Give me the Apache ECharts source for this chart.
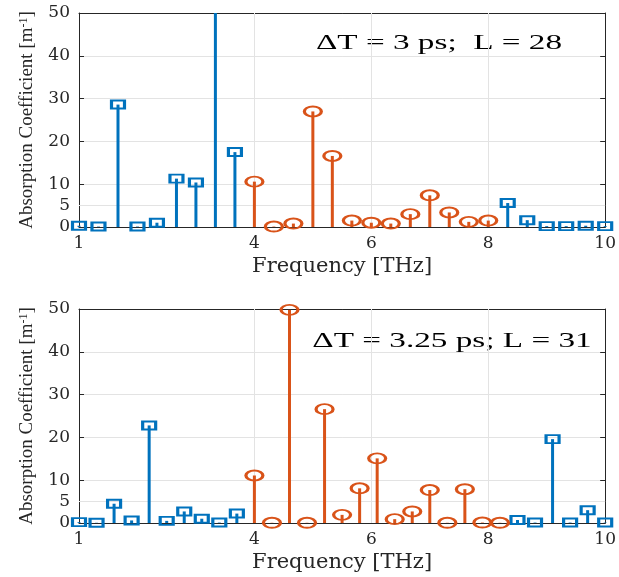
<!DOCTYPE html>
<html><head><meta charset="utf-8">
<script src="https://cdn.jsdelivr.net/npm/echarts@6/dist/echarts.min.js"></script>
<style>html,body{margin:0;padding:0;background:#fff}#c{width:619px;height:577px}</style>
</head><body><div id="c"></div><script>
// ---- tick labels ----
const xTickValues = [1, 4, 6, 8, 10];
const yTickValues = [0, 5, 10, 20, 30, 40, 50];

// ---- Panel 1: ΔT = 3 ps; L = 28 ----
const p1BlueAFreq = [1.000, 1.333, 1.667, 2.000, 2.333, 2.667, 3.000, 3.333, 3.667];
const p1BlueAVal  = [0.3, 0.1, 28.6, 0.1, 1.0, 11.3, 10.4, 58, 17.5];
const p1OrangeFreq = [4.000, 4.333, 4.667, 5.000, 5.333, 5.667, 6.000, 6.333, 6.667, 7.000, 7.333, 7.667, 8.000];
const p1OrangeVal  = [10.6, 0.1, 0.8, 27.0, 16.6, 1.5, 1.0, 0.8, 3.0, 7.4, 3.4, 1.2, 1.5];
const p1BlueBFreq = [8.333, 8.667, 9.000, 9.333, 9.667, 10.000];
const p1BlueBVal  = [5.6, 1.6, 0.2, 0.2, 0.3, 0.2];

// ---- Panel 2: ΔT = 3.25 ps; L = 31 ----
const p2BlueAFreq = [1.0, 1.3, 1.6, 1.9, 2.2, 2.5, 2.8, 3.1, 3.4, 3.7];
const p2BlueAVal  = [0.2, 0.05, 4.5, 0.6, 22.8, 0.5, 2.7, 1.0, 0.1, 2.2];
const p2OrangeFreq = [4.0, 4.3, 4.6, 4.9, 5.2, 5.5, 5.8, 6.1, 6.4, 6.7, 7.0, 7.3, 7.6, 7.9, 8.2];
const p2OrangeVal  = [11.1, 0.05, 49.8, 0.05, 26.6, 1.9, 8.1, 15.1, 0.9, 2.7, 7.7, 0.05, 7.9, 0.1, 0.05];
const p2BlueBFreq = [8.5, 8.8, 9.1, 9.4, 9.7, 10.0];
const p2BlueBVal  = [0.7, 0.1, 19.6, 0.1, 3.0, 0.1];

const panelTitles = ['\u0394T = 3 ps;  L = 28', '\u0394T = 3.25 ps; L = 31'];

const BLUE = '#0072BD', ORANGE = '#D95319', AX = '#262626', GRID = '#e3e3e3';
const FONT_H = '"DejaVu Serif", "Liberation Serif", serif';
const FONT_V = '"Liberation Serif", "DejaVu Serif", serif';
const ELLIPSE = 'path://M0,10A20,10 0 1,1 40,10A20,10 0 1,1 0,10Z';

const zip = (xs, ys) => xs.map((x, i) => [x, ys[i]]);
const panels = [
  { blue: zip(p1BlueAFreq, p1BlueAVal).concat(zip(p1BlueBFreq, p1BlueBVal)), orange: zip(p1OrangeFreq, p1OrangeVal), top: 13 },
  { blue: zip(p2BlueAFreq, p2BlueAVal).concat(zip(p2BlueBFreq, p2BlueBVal)), orange: zip(p2OrangeFreq, p2OrangeVal), top: 309 }
];

const grid = [], xAxis = [], yAxis = [], series = [];
panels.forEach((p, i) => {
  grid.push({ left: 79, top: p.top, width: 528, height: 214, containLabel: false });
  xAxis.push({
    type: 'value', gridIndex: i, min: 1, max: 10, interval: 1, position: 'bottom',
    name: 'Frequency [THz]', nameLocation: 'middle', nameGap: 29,
    nameTextStyle: { fontFamily: FONT_H, fontSize: 21, color: AX },
    axisLine: { show: true, onZero: false, lineStyle: { color: AX, width: 1 } },
    axisTick: { show: true, inside: true, length: 5, customValues: xTickValues, lineStyle: { color: AX } },
    axisLabel: { show: true, customValues: xTickValues, fontFamily: FONT_H, fontSize: 17, color: AX, margin: 8 },
    splitLine: { show: false }
  });
  yAxis.push({
    type: 'value', gridIndex: i, min: 0, max: 50, interval: 10, position: 'left',
    name: '{a|Absorption Coefficient [m}{b|-1}{a|]}', nameLocation: 'middle', nameGap: 42, nameRotate: 90,
    nameTextStyle: { color: AX, rich: {
      a: { fontFamily: FONT_V, fontSize: 19, color: AX },
      b: { fontFamily: FONT_V, fontSize: 12, color: AX, verticalAlign: 'top' } } },
    axisLine: { show: true, onZero: false, lineStyle: { color: AX, width: 1 } },
    axisTick: { show: true, inside: true, length: 5, customValues: yTickValues, lineStyle: { color: AX } },
    axisLabel: { show: true, customValues: yTickValues, fontFamily: FONT_H, fontSize: 17, color: AX, margin: 9 },
    splitLine: { show: true, lineStyle: { color: GRID, width: 1 } }
  });
});
panels.forEach((p, i) => {
  xAxis.push({
    type: 'value', gridIndex: i, min: 1, max: 10, interval: 1, position: 'top',
    axisLine: { show: true, onZero: false, lineStyle: { color: AX, width: 1 } },
    axisTick: { show: true, inside: true, length: 5, customValues: xTickValues, lineStyle: { color: AX } },
    axisLabel: { show: false }, splitLine: { show: false }
  });
  yAxis.push({
    type: 'value', gridIndex: i, min: 0, max: 50, interval: 10, position: 'right',
    axisLine: { show: true, onZero: false, lineStyle: { color: AX, width: 1 } },
    axisTick: { show: true, inside: true, length: 5, customValues: yTickValues, lineStyle: { color: AX } },
    axisLabel: { show: false }, splitLine: { show: false }
  });
});

panels.forEach((p, i) => {
  series.push({
    type: 'bar', xAxisIndex: i, yAxisIndex: i, data: p.blue, barWidth: 3, barGap: '-100%',
    itemStyle: { color: BLUE }, z: 2, clip: true, silent: true,
    markLine: {
      silent: true, symbol: 'none', z: 1, animation: false,
      label: { show: false },
      lineStyle: { color: GRID, type: 'solid', width: 1 },
      emphasis: { disabled: true },
      data: [{ xAxis: 4 }, { xAxis: 6 }, { xAxis: 8 }, { yAxis: 5 }]
    }
  });
  series.push({
    type: 'bar', xAxisIndex: i, yAxisIndex: i, data: p.orange, barWidth: 3, barGap: '-100%',
    itemStyle: { color: ORANGE }, z: 2, clip: true, silent: true
  });
  series.push({
    type: 'scatter', xAxisIndex: i, yAxisIndex: i, data: p.blue, symbol: 'rect', symbolSize: [13, 8],
    itemStyle: { color: 'rgba(0,0,0,0)', borderColor: BLUE, borderWidth: 2.5, opacity: 1 }, z: 3, clip: true, silent: true
  });
  series.push({
    type: 'scatter', xAxisIndex: i, yAxisIndex: i, data: p.orange, symbol: ELLIPSE, symbolSize: [17, 10],
    itemStyle: { color: 'rgba(0,0,0,0)', borderColor: ORANGE, borderWidth: 2.5, opacity: 1 }, z: 3, clip: true, silent: true
  });
});

const chart = echarts.init(document.getElementById('c'), null, { renderer: 'canvas' });
chart.setOption({
  animation: false,
  backgroundColor: '#fff',
  grid, xAxis, yAxis, series,
  graphic: [
    { type: 'text', x: 439, y: 43, scaleX: 1.51, silent: true, style: { text: panelTitles[0], fontFamily: FONT_V, fontSize: 22, fill: '#000', align: 'center', verticalAlign: 'middle' } },
    { type: 'text', x: 452, y: 341, scaleX: 1.51, silent: true, style: { text: panelTitles[1], fontFamily: FONT_V, fontSize: 22, fill: '#000', align: 'center', verticalAlign: 'middle' } }
  ]
});
</script></body></html>
